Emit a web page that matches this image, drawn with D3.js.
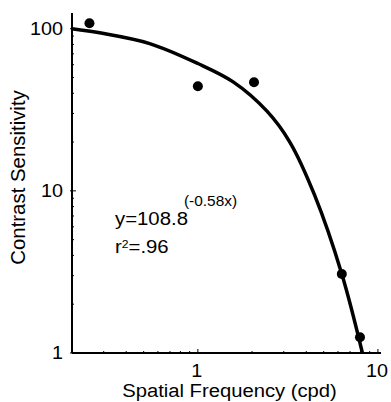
<!DOCTYPE html>
<html>
<head>
<meta charset="utf-8">
<script src="https://cdn.jsdelivr.net/npm/d3@7"></script>
<style>
    body { margin: 0; background: #fff; }
    text { font-family: "Liberation Sans", Arial, sans-serif; fill: #000; }
</style>
</head>
<body>
<div id="chart"></div>
<script>
var svgWidth = 391;
var svgHeight = 402;

// measured points (spatial frequency in cpd, contrast sensitivity)
var freq = [0.25, 1, 2.05, 6.3, 7.95];
var sens = [108, 44.2, 46.8, 3.07, 1.25];

// fitted curve
var fitFreq = [0.2, 0.29, 0.54, 1.0, 1.57, 2.42, 3.24, 4.45, 6.3, 8.2];
var fitSens = [100, 94, 81, 61, 47, 31, 20, 9.4, 3.07, 1.0];

var xTicks = [1, 10];
var yTicks = [1, 10, 100];
var xMinor = [0.2, 0.3, 0.4, 0.5, 0.6, 0.7, 0.8, 0.9, 2, 3, 4, 5, 6, 7, 8, 9];
var yMinor = [2, 3, 4, 5, 6, 7, 8, 9, 20, 30, 40, 50, 60, 70, 80, 90];

var svg = d3.select("#chart")
    .append("svg")
    .attr("width", svgWidth)
    .attr("height", svgHeight);

var xScale = d3.scaleLog().domain([0.2, 10.4]).range([72, 381]);
var yScale = d3.scaleLog().domain([1, 125]).range([353, 13]);

// axis lines
svg.append("line")
    .attr("x1", xScale(0.2)).attr("x2", xScale(10.4))
    .attr("y1", yScale(1)).attr("y2", yScale(1))
    .attr("stroke", "#000").attr("stroke-width", 2);

svg.append("line")
    .attr("x1", xScale(0.2)).attr("x2", xScale(0.2))
    .attr("y1", yScale(1)).attr("y2", yScale(125))
    .attr("stroke", "#000").attr("stroke-width", 2);

// ticks pointing inward
svg.selectAll(".xminor")
    .data(xMinor)
    .enter()
    .append("line")
    .attr("x1", d => xScale(d)).attr("x2", d => xScale(d))
    .attr("y1", yScale(1)).attr("y2", yScale(1) - 2)
    .attr("stroke", "#000").attr("stroke-width", 1);

svg.selectAll(".xmajor")
    .data(xTicks)
    .enter()
    .append("line")
    .attr("x1", d => xScale(d)).attr("x2", d => xScale(d))
    .attr("y1", yScale(1)).attr("y2", yScale(1) - 4)
    .attr("stroke", "#000").attr("stroke-width", 1);

svg.selectAll(".yminor")
    .data(yMinor)
    .enter()
    .append("line")
    .attr("x1", xScale(0.2)).attr("x2", xScale(0.2) + 2)
    .attr("y1", d => yScale(d)).attr("y2", d => yScale(d))
    .attr("stroke", "#000").attr("stroke-width", 1);

svg.selectAll(".ymajor")
    .data(yTicks)
    .enter()
    .append("line")
    .attr("x1", xScale(0.2) - 2).attr("x2", xScale(0.2) + 4)
    .attr("y1", d => yScale(d)).attr("y2", d => yScale(d))
    .attr("stroke", "#000").attr("stroke-width", 1);

// tick labels (text in the original is slightly wide)
svg.selectAll(".xlabel")
    .data(xTicks)
    .enter()
    .append("text")
    .attr("transform", d => `translate(${xScale(d) - 1}, ${yScale(1) + 23.5}) scale(1.1, 1)`)
    .attr("text-anchor", "middle")
    .attr("font-size", 18)
    .text(d => d);

svg.selectAll(".ylabel")
    .data(yTicks)
    .enter()
    .append("text")
    .attr("transform", d => `translate(63, ${yScale(d) + 6}) scale(1.1, 1)`)
    .attr("text-anchor", "end")
    .attr("font-size", 18)
    .text(d => d);

// axis titles
svg.append("text")
    .attr("transform", "translate(229.5, 397) scale(1.065, 1)")
    .attr("text-anchor", "middle")
    .attr("font-size", 19)
    .text("Spatial Frequency (cpd)");

svg.append("text")
    .attr("transform", "translate(25, 177.5) rotate(-90)")
    .attr("text-anchor", "middle")
    .attr("font-size", 20.4)
    .text("Contrast Sensitivity");

// fitted curve
var fitData = fitFreq.map((d, i) => ({ x: d, y: fitSens[i] }));

var line = d3.line()
    .x(d => xScale(d.x))
    .y(d => yScale(d.y))
    .curve(d3.curveCatmullRom.alpha(0.5));

svg.append("path")
    .datum(fitData)
    .attr("d", line)
    .attr("fill", "none")
    .attr("stroke", "#000")
    .attr("stroke-width", 3.5)
    .attr("stroke-linecap", "butt");

// data points
var pointData = freq.map((d, i) => ({ x: d, y: sens[i] }));

svg.selectAll("circle")
    .data(pointData)
    .enter()
    .append("circle")
    .attr("cx", d => xScale(d.x))
    .attr("cy", d => yScale(d.y))
    .attr("r", 5)
    .attr("fill", "#000");

// equation
svg.append("text")
    .attr("transform", "translate(115, 224.7) scale(1.1, 1)")
    .attr("font-size", 18.5)
    .text("y=108.8");

svg.append("text")
    .attr("transform", "translate(184, 206) scale(1.1, 1)")
    .attr("font-size", 14)
    .text("(-0.58x)");

var r2 = svg.append("text")
    .attr("transform", "translate(115, 253) scale(1.1, 1)")
    .attr("font-size", 18.5);
r2.append("tspan").text("r");
r2.append("tspan").attr("font-size", 11).attr("dy", -5).text("2");
r2.append("tspan").attr("dy", 5).text("=.96");
</script>
</body>
</html>
